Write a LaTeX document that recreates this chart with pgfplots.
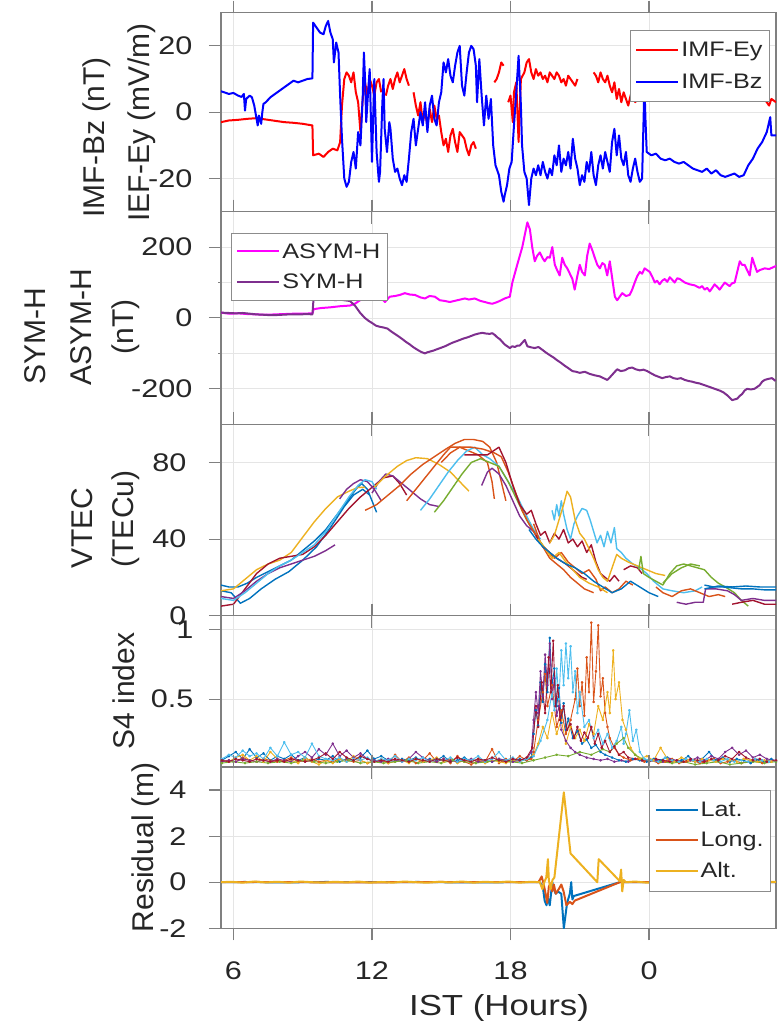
\documentclass[border=0pt]{standalone}
\usepackage{pgfplots}
\pgfplotsset{compat=1.18}
\usepackage{fontspec}
\setmainfont{Liberation Sans}[FakeStretch=1.2]
\newfontfamily\ylfamily{Liberation Sans}

\definecolor{mBlue}{rgb}{0,0.447,0.741}
\definecolor{mOrange}{rgb}{0.850,0.325,0.098}
\definecolor{mYellow}{rgb}{0.929,0.694,0.125}
\definecolor{mPurple}{rgb}{0.494,0.184,0.556}
\definecolor{mGreen}{rgb}{0.466,0.674,0.188}
\definecolor{mCyan}{rgb}{0.301,0.745,0.933}
\definecolor{mRed}{rgb}{0.635,0.078,0.184}
\definecolor{mMag}{rgb}{1,0,1}
\definecolor{frame}{gray}{0.5}
\definecolor{gridc}{gray}{0.9}
\definecolor{txt}{gray}{0.15}

\newcommand\tickfont{\fontsize{25.5}{30}\selectfont}
\newcommand\legfont{\fontsize{21}{25}\selectfont}
\newcommand\ylabfont{\ylfamily\fontsize{30}{36}\selectfont}

\tikzset{ylab/.style={rotate=90, font=\ylabfont, text=txt, anchor=center, inner sep=0pt}}

\pgfplotsset{
  panel/.style={
    scale only axis, width=555pt,
    xmin=5.46, xmax=29.5,
    xtick={6,12,18,24}, xticklabels={},
    axis line style={frame, line width=1.3pt},
    tick style={frame, line width=1.1pt},
    tick align=outside, major tick length=12pt,
    ytick pos=left, xtick pos=both,
    grid=major, major grid style={gridc, line width=0.8pt},
    yticklabel style={font=\tickfont, text=txt, xshift=-12pt},
    xticklabel style={font=\tickfont, text=txt, yshift=-18pt},
    /pgf/number format/assume math mode=true,
    unbounded coords=jump,
    legend style={font=\legfont, draw=black!45, line width=0.8pt, fill=white,
      text=txt, inner xsep=5pt, inner ysep=10pt, row sep=11.5pt},
    legend cell align=left,
    legend image code/.code={\draw[##1, line width=2pt] (0pt,0pt) -- (42pt,0pt);},
    every axis plot/.append style={line join=round},
  },
}

\begin{document}
\begin{tikzpicture}
\path[use as bounding box] (0pt,0pt) rectangle (784pt,1026pt);

% ---------------- Panel 1: IMF ----------------
\begin{axis}[panel, at={(221pt,814.3pt)}, anchor=south west, height=199pt,
  ymin=-30, ymax=30, ytick={-20,0,20},
  yticklabel style={xshift=-1pt},
  legend style={at={(0.989,0.913)}, anchor=north east}]
\addplot[red, line width=2pt] coordinates {
(5.46,-3)(5.8,-2.5)(6.2,-2.3)(6.6,-2)(7.0,-1.8)(7.4,-2.2)(7.8,-2.6)(8.2,-3)(8.6,-3.2)(9.0,-3.5)(9.42,-4)
(9.45,-13)(9.7,-12.5)(9.9,-13.5)(10.1,-12)(10.3,-11)(10.5,-11.5)(10.62,-9)(10.7,2)(10.8,10)(10.9,12)
(11.0,11)(11.1,9)(11.2,12)(11.3,6)(11.4,3)(11.5,-6)(11.6,4)(11.7,9)(11.8,5)(11.9,10)(12.0,8)(12.1,5)
(12.2,9)(12.3,10)(12.4,6)(12.5,nan)
(12.6,5)(12.7,8)(12.8,10)(12.9,7)(13.0,10)(13.1,12)(13.2,9)(13.3,11)(13.4,13)(13.5,10)(13.6,8)(13.7,nan)
(13.8,6)(13.9,2)(14.0,-1)(14.1,3)(14.2,-3)(14.3,0)(14.4,-4)(14.5,1)(14.6,-3)(14.7,2)(14.8,-2)(14.9,-1)
(15.0,-6)(15.1,-10)(15.2,-8)(15.3,-12)(15.4,-7)(15.5,-5)(15.6,-9)(15.7,-12)(15.8,-6)(16.0,-8)(16.1,-11)
(16.2,-13)(16.3,-10)(16.4,-9)(16.5,-11)(16.9,nan)
(17.3,9)(17.4,10)(17.5,12)(17.6,15)(17.7,14)(17.8,nan)
(17.9,3)(18.0,5)(18.1,-3)(18.15,6)(18.25,9)(18.35,-9)(18.45,10)(18.6,12)(18.7,15)(18.8,16)(18.9,12)
(19.0,10)(19.1,13)(19.2,11)(19.3,12)(19.4,10)(19.5,11)(19.6,9)(19.7,12)(19.8,11)(19.9,10)(20.0,12)
(20.1,11)(20.2,9)(20.3,10)(20.4,8)(20.5,11)(20.6,10)(20.7,9)(20.8,8)(20.9,10)(21.2,nan)
(21.6,12)(21.7,11)(21.8,9)(21.9,12)(22.0,10)(22.1,9)(22.2,11)(22.3,8)(22.4,6)(22.5,9)(22.6,4)(22.7,7)
(22.8,3)(22.9,6)(23.0,4)(23.1,2)(23.2,5)(23.3,7)(23.4,3)(23.6,5)(23.8,10)(24.2,12)(24.6,11)(25.0,12)
(25.5,11)(26.0,12)(26.5,11)(27.0,12)(27.5,11)(28.0,10)(28.5,7)(28.8,5)(29.0,4)(29.2,2)(29.3,4)(29.5,3)
};
\addlegendentry{IMF-Ey}
\addplot[blue, line width=2pt] coordinates {
(5.46,6.3)(5.6,6)(5.8,5.5)(6.0,5.8)(6.2,5)(6.35,4.6)(6.45,5.5)(6.5,0.5)(6.55,4)(6.7,5)(6.8,4.5)(6.9,2)
(7.0,-2)(7.05,-4)(7.1,-1)(7.2,-3.5)(7.25,0)(7.3,2.5)(7.4,3)(7.6,4.5)(7.8,5.5)(8.0,6.5)(8.2,7.5)(8.4,8.5)
(8.6,9.5)(8.8,9)(9.0,9.5)(9.2,10)(9.42,10.2)(9.45,27)(9.6,25.5)(9.75,24)(9.9,23.5)(10.0,26)(10.1,27.5)
(10.2,24)(10.3,22)(10.35,15)(10.45,21)(10.55,18)(10.62,5)(10.7,-8)(10.8,-20)(10.9,-22.5)(11.0,-21)
(11.1,-15)(11.2,-12)(11.3,-17)(11.4,-6)(11.5,-10)(11.6,5)(11.65,18)(11.7,10)(11.75,-3)(11.85,8)(11.9,13)
(12.0,-15)(12.05,-2)(12.1,10)(12.2,-12)(12.3,-21)(12.35,-18)(12.45,3)(12.5,10)(12.55,-5)(12.65,-12)
(12.75,-3)(12.8,-5)(12.9,-14)(13.0,-18)(13.1,-17)(13.2,-20)(13.3,-22)(13.4,-19)(13.5,-21)(13.6,-14)
(13.7,-6)(13.8,-2)(13.9,-10)(14.0,-5)(14.1,0)(14.2,-4)(14.3,3)(14.4,-6)(14.5,2)(14.6,5)(14.7,-2)(14.8,-4)
(14.9,3)(15.0,6)(15.1,15)(15.2,12)(15.3,16)(15.4,11)(15.5,9)(15.6,14)(15.7,18)(15.8,20)(15.9,8)(16.0,5)
(16.1,12)(16.2,18)(16.3,20)(16.4,19)(16.5,14)(16.55,3)(16.65,16)(16.75,5)(16.85,-4)(16.95,5)(17.05,-2)
(17.15,4)(17.25,-10)(17.35,-16)(17.5,-19)(17.6,-24)(17.7,-27)(17.75,-25)(17.85,-22)(17.95,-17)(18.05,-15)
(18.15,-4)(18.25,6)(18.35,17)(18.45,2)(18.5,-10)(18.6,-18)(18.7,-20)(18.8,-28)(18.9,-20)(19.0,-17)
(19.1,-19)(19.2,-16)(19.3,-19)(19.4,-15)(19.5,-18)(19.6,-20)(19.7,-17)(19.8,-19)(19.9,-13)(20.0,-16)
(20.1,-10)(20.2,-18)(20.3,-14)(20.4,-16)(20.5,-12)(20.6,-17)(20.7,-8)(20.8,-14)(20.9,-17)(21.0,-22)
(21.1,-19)(21.2,-21)(21.3,-15)(21.4,-18)(21.5,-12)(21.6,-19)(21.7,-22)(21.8,-16)(21.9,-13)(22.0,-17)
(22.1,-12)(22.2,-15)(22.3,-18)(22.4,-9)(22.5,-5)(22.6,-13)(22.7,-7)(22.8,-14)(22.9,-16)(23.0,-12)
(23.1,-19)(23.2,-21)(23.3,-17)(23.4,-14)(23.5,-18)(23.6,-21)(23.7,-20)(23.8,8)(23.85,-3)(23.9,-12)
(24.1,-13)(24.3,-12.5)(24.5,-14)(24.7,-14.5)(24.9,-14)(25.1,-15)(25.3,-15.5)(25.5,-15)(25.7,-16)
(25.9,-17)(26.1,-17.5)(26.3,-18)(26.5,-17)(26.7,-18.5)(26.9,-17.5)(27.1,-19)(27.3,-19.5)(27.5,-19)
(27.7,-18.5)(27.9,-19.5)(28.1,-19)(28.3,-16)(28.5,-14)(28.7,-11)(28.9,-9)(29.1,-6)(29.2,-3)(29.25,-1.5)
(29.3,-7)(29.5,-7)
};
\addlegendentry{IMF-Bz}
\end{axis}

% ---------------- Panel 2: SYM-H / ASYM-H ----------------
\begin{axis}[panel, at={(221pt,601.8pt)}, anchor=south west, height=212.5pt,
  ymin=-300, ymax=300, ytick={-200,0,200}, minor ytick={-100,100},
  grid=both, minor grid style={gridc, line width=0.8pt},
  yticklabel style={xshift=-1pt},
  legend style={at={(0.018,0.900)}, anchor=north west, inner ysep=8pt, row sep=10.5pt}]
\addplot[mMag, line width=2pt] coordinates {
(5.46,15)(5.8,12)(6.2,13)(6.6,11)(7.0,10)(7.4,9)(7.8,10)(8.2,11)(8.6,12)(9.0,12)(9.42,13)
(9.48,25)(9.8,28)(10.2,30)(10.6,33)(11.04,35)(11.26,40)(11.48,50)(11.7,55)(11.91,60)(12.1,57)(12.34,60)
(12.56,45)(12.77,60)(13.0,62)(13.21,65)(13.42,70)(13.65,66)(13.86,65)(14.1,58)(14.29,55)(14.5,62)
(14.72,60)(14.94,50)(15.15,48)(15.37,45)(15.7,50)(16.02,55)(16.2,52)(16.45,55)(16.7,48)(16.89,45)
(17.05,42)(17.21,40)(17.43,45)(17.6,50)(17.75,55)(17.97,60)(18.08,100)(18.29,150)(18.51,200)
(18.73,270)(18.84,250)(18.94,200)(19.05,160)(19.15,175)(19.27,185)(19.38,170)(19.48,160)(19.6,172)
(19.70,170)(19.81,200)(19.92,150)(20.02,135)(20.13,120)(20.24,170)(20.35,150)(20.46,140)(20.57,125)
(20.68,110)(20.78,80)(20.9,120)(21.0,150)(21.1,130)(21.22,120)(21.32,175)(21.43,210)(21.55,190)
(21.65,170)(21.76,150)(21.87,140)(21.98,155)(22.08,150)(22.19,120)(22.30,160)(22.41,110)(22.52,60)
(22.62,50)(22.73,60)(22.84,70)(23.0,62)(23.16,65)(23.27,80)(23.38,100)(23.49,118)(23.60,130)
(23.7,125)(23.81,140)(23.92,135)(24.03,130)(24.15,115)(24.25,100)(24.35,105)(24.46,95)(24.57,105)
(24.68,110)(24.79,102)(24.90,115)(25.0,108)(25.11,100)(25.22,112)(25.33,110)(25.55,100)(25.76,95)
(25.98,92)(26.19,85)(26.3,90)(26.41,80)(26.52,85)(26.63,75)(26.74,85)(26.84,95)(26.95,88)(27.06,80)
(27.17,90)(27.28,100)(27.38,95)(27.49,90)(27.6,98)(27.71,100)(27.82,130)(27.93,160)(28.03,150)
(28.14,150)(28.25,135)(28.36,120)(28.47,170)(28.57,150)(28.68,130)(28.79,135)(29.01,140)(29.2,138)
(29.44,145)(29.5,147)
};
\addlegendentry{ASYM-H}
\addplot[mPurple, line width=2pt] coordinates {
(5.46,15)(5.8,14)(6.1,13)(6.4,14)(6.71,12)(7.0,10)(7.3,9)(7.55,8)(7.8,8)(8.1,9)(8.4,10)(8.7,10)
(8.88,10)(9.2,11)(9.42,10)(9.48,65)(9.6,58)(9.74,55)(9.85,62)(9.96,60)(10.07,52)(10.18,55)(10.4,50)
(10.61,52)(10.8,50)(11.04,48)(11.26,35)(11.48,15)(11.69,0)(11.85,-8)(12.02,-15)(12.18,-22)(12.34,-25)
(12.5,-27)(12.67,-30)(12.83,-38)(12.99,-45)(13.15,-52)(13.32,-60)(13.48,-68)(13.64,-75)(13.8,-83)
(13.97,-90)(14.13,-96)(14.29,-100)(14.4,-97)(14.51,-95)(14.67,-92)(14.83,-88)(15.0,-84)(15.16,-80)
(15.32,-75)(15.48,-70)(15.65,-66)(15.81,-62)(15.97,-58)(16.13,-55)(16.29,-51)(16.45,-47)(16.62,-44)
(16.78,-42)(16.94,-44)(17.10,-45)(17.21,-43)(17.32,-48)(17.43,-55)(17.54,-60)(17.65,-68)(17.75,-75)
(17.86,-80)(17.97,-85)(18.08,-80)(18.19,-82)(18.3,-78)(18.40,-78)(18.51,-70)(18.62,-62)(18.73,-80)
(18.89,-83)(19.05,-85)(19.21,-82)(19.38,-90)(19.54,-98)(19.70,-105)(19.87,-112)(20.03,-120)(20.19,-127)
(20.35,-135)(20.51,-142)(20.68,-150)(20.84,-152)(21.0,-155)(21.22,-152)(21.43,-158)(21.65,-162)
(21.87,-165)(22.03,-170)(22.19,-175)(22.3,-168)(22.41,-160)(22.52,-152)(22.62,-145)(22.78,-150)
(22.95,-148)(23.11,-142)(23.27,-140)(23.43,-145)(23.60,-148)(23.76,-146)(23.92,-150)(24.08,-156)
(24.25,-162)(24.41,-166)(24.57,-170)(24.73,-167)(24.90,-165)(25.06,-170)(25.22,-172)(25.38,-170)
(25.55,-175)(25.71,-178)(25.87,-180)(26.03,-183)(26.19,-185)(26.41,-190)(26.63,-195)(26.84,-200)
(27.06,-205)(27.22,-210)(27.38,-218)(27.49,-225)(27.60,-232)(27.71,-230)(27.82,-228)(27.93,-220)
(28.03,-215)(28.14,-205)(28.25,-200)(28.41,-202)(28.57,-200)(28.68,-195)(28.79,-190)(28.9,-180)
(29.01,-175)(29.17,-172)(29.33,-170)(29.48,-178)
};
\addlegendentry{SYM-H}
\end{axis}

% ---------------- Panel 3: VTEC ----------------
\begin{axis}[panel, at={(221pt,410.3pt)}, anchor=south west, height=191.5pt,
  ymin=0, ymax=100, ytick={0,40,80},
  yticklabel style={xshift=-7pt},
  every axis plot/.append style={line width=1.4pt}]
% morning passes
\addplot[mBlue] coordinates {(5.46,16)(5.8,15)(6.2,15)(6.6,17)(7.0,20)(7.5,23)(8.0,26)(8.5,29)(9.0,34)(9.5,39)(10.0,45)(10.5,53)(11.0,61)(11.3,66)(11.55,69)(11.8,66)(12.0,60)(12.2,54)};
\addplot[mBlue] coordinates {(5.46,13)(5.9,12)(6.3,6.5)(6.7,9)(7.2,14)(7.8,19)(8.4,23)(9.0,29)(9.6,36)(10.2,46)(10.8,57)(11.2,63)(11.6,66)(11.9,63)};
\addplot[mYellow] coordinates {(5.46,13)(6.0,14)(6.5,19)(7.0,24)(7.5,27)(8.0,29)(8.5,33)(9.0,41)(9.5,49)(10.0,56)(10.5,62)(11.0,65)(11.4,67)(11.7,67)};
\addplot[mRed] coordinates {(5.46,5)(6.0,6)(6.5,14)(7.0,22)(7.5,27)(8.0,30)(8.5,31)(9.0,32)(9.5,36)(10.0,42)(10.5,49)(11.0,56)(11.5,62)(12.0,67)(12.5,72)(12.9,73)(13.2,69)(13.5,63)};
\addplot[mPurple] coordinates {(5.46,10)(6.0,9)(6.5,13)(7.0,18)(7.5,22)(8.0,25)(8.5,27)(9.0,29)(9.5,31)(10.0,34)(10.4,37)};
\addplot[mPurple] coordinates {(10.6,61)(10.9,66)(11.2,69)(11.5,71)(11.8,70)(12.1,66)(12.4,60)};
\addplot[mPurple] coordinates {(12.0,64)(12.3,70)(12.6,74)(12.9,73)(13.3,69)(13.7,65)(14.1,61)(14.5,58)(14.9,57)};
\addplot[mCyan] coordinates {(5.46,9)(6.0,8)(6.5,12)(7.0,17)(7.5,22)(8.0,26)(8.5,29)(9.0,33)(9.5,37)(10.0,44)(10.5,53)(11.0,62)(11.4,68)(11.7,71)(12.0,70)(12.2,66)};
% midday passes
\addplot[mYellow] coordinates {(12.1,67)(12.6,73)(13.1,78)(13.5,81)(13.9,82.5)(14.4,82)(14.9,79)(15.4,75)(15.8,70)(16.2,65)};
\addplot[mOrange] coordinates {(11.7,55)(12.2,58)(12.7,63)(13.2,68)(13.7,74)(14.2,79)(14.7,83)(15.2,87)(15.6,90)(16.0,92)(16.4,92)(16.8,91)(17.1,88)(17.4,80)(17.6,70)(17.8,60)};
\addplot[mOrange] coordinates {(13.5,60)(13.9,66)(14.3,72)(14.7,78)(15.1,84)(15.4,88)(15.8,88)(16.2,86)(16.6,84)(17.0,80)(17.2,70)(17.3,61)};
\addplot[mCyan] coordinates {(14.1,55)(14.5,61)(14.9,68)(15.3,75)(15.7,81)(16.1,86)(16.45,88)(16.8,84)(17.1,82)(17.5,78)(17.9,70)(18.3,62)(18.7,52)(19.0,45)(19.3,40)};
\addplot[mGreen] coordinates {(14.7,54)(15.1,60)(15.5,67)(15.9,74)(16.3,80)(16.7,82)(17.1,80)(17.5,78)(17.9,70)(18.3,60)(18.7,50)(19.1,42)(19.5,35)};
\addplot[mPurple] coordinates {(16.75,68)(17.0,75)(17.2,77)(17.5,74)(17.8,68)(18.1,60)(18.4,52)(18.7,47)(19.0,44)(19.2,40)};
\addplot[mOrange] coordinates {(15.0,80)(15.4,85)(15.8,88)(16.3,88)(16.8,87)(17.3,85)(17.6,83)(17.9,75)(18.2,65)(18.5,55)(18.8,48)(19.1,42)(19.4,36)(19.7,30)(20.0,27)(20.3,24)(20.6,20)(20.9,17)(21.2,14)(21.6,12)};
\addplot[mRed] coordinates {(16.0,84)(16.5,84)(17.0,84)(17.5,88)(17.8,80)(18.1,68)(18.4,58)(18.7,53)(18.9,55)(19.1,48)(19.3,42)(19.5,44)(19.7,38)(19.9,43)(20.1,40)(20.3,45)(20.5,38)(20.7,40)(20.9,36)(21.1,39)(21.3,33)(21.5,37)(21.7,28)(21.9,22)(22.1,20)(22.3,18)(22.5,21)(22.7,18)};
% evening passes
\addplot[mRed] coordinates {(19.1,42)(19.4,36)(19.7,33)(20.0,30)(20.4,27)(20.8,23)(21.1,20)(21.3,19)};
\addplot[mRed] coordinates {(22.9,24)(23.2,26)(23.5,25)(23.7,22)};
\addplot[mOrange] coordinates {(19.0,48)(19.3,38)(19.6,34)(19.9,30)(20.2,33)(20.5,28)(20.8,25)(21.1,22)(21.4,24)(21.7,19)(21.9,13)(22.1,15)(22.4,12)(22.7,14)(23.0,18)(23.3,16)};
\addplot[mYellow] coordinates {(19.2,40)(19.5,35)(19.8,30)(20.1,33)(20.4,28)(20.7,24)(21.0,20)(21.4,17)(21.8,15)(22.2,12)};
\addplot[mCyan] coordinates {(19.8,55)(19.9,50)(20.0,58)(20.1,52)(20.2,60)(20.3,53)(20.45,45)(20.6,40)(20.75,48)(20.9,52)(21.1,56)(21.3,55)(21.45,50)(21.6,44)(21.75,38)(21.9,42)(22.05,36)(22.2,44)(22.35,38)(22.5,46)(22.6,35)(22.8,33)(23.0,30)(23.3,27)(23.6,25)(23.9,22)(24.2,18)(24.6,14)(25.0,13)(25.5,12)(26.0,13)(26.3,15)};
\addplot[mYellow] coordinates {(19.7,38)(19.9,42)(20.1,50)(20.3,58)(20.45,65)(20.6,62)(20.8,50)(21.0,43)(21.2,40)(21.4,35)(21.6,30)(21.8,24)(22.0,20)(22.2,18)(22.4,25)(22.6,32)(22.8,30)(23.1,28)(23.5,26)(23.9,24)(24.3,22)(24.7,21)};
\addplot[mBlue] coordinates {(18.8,45)(19.1,40)(19.4,36)(19.7,33)(20.0,30)(20.4,27)(20.8,25)(21.2,22)(21.6,18)(22.0,15)(22.4,12)(22.8,14)(23.2,18)(23.6,15)(24.0,12)(24.4,10)};
% night passes
\addplot[mGreen] coordinates {(23.55,24)(23.65,31)(23.75,22)(24.0,20)(24.3,18)(24.6,16)(24.9,22)(25.2,26)(25.5,27)(25.8,26)(26.1,25)(26.4,24)(26.7,20)(27.0,17)(27.3,15)(27.7,12)(28.0,8)(28.3,5)};
\addplot[mGreen] coordinates {(24.6,17)(25.0,22)(25.4,25)(25.8,27)(26.2,26)};
\addplot[mOrange] coordinates {(24.3,15)(24.6,12)(25.0,10)(25.4,13)(25.8,14)(26.2,12)(26.6,10)(27.0,11)(27.3,10)};
\addplot[mPurple] coordinates {(25.2,7)(25.6,6)(26.0,7)(26.35,7)(26.45,14)(26.9,14)(27.4,13)(27.7,11)(28.0,8)(28.5,9)(29.0,8)(29.5,8)};
\addplot[mBlue] coordinates {(26.4,16)(26.8,15)(27.2,15)(27.6,14.5)(28.0,14)(28.5,14)(29.0,13.5)(29.5,13.5)};
\addplot[mBlue] coordinates {(26.4,14)(27.0,15.5)(27.6,15)(28.2,15.5)(28.8,15)(29.5,15)};
\addplot[mRed] coordinates {(27.6,6)(28.0,7)(28.5,8)(29.0,6)(29.5,6)};
\end{axis}

% ---------------- Panel 4: S4 index ----------------
\begin{axis}[panel, at={(221pt,259pt)}, anchor=south west, height=151.3pt,
  ymin=0.012, ymax=1.1, ytick={0.5,1},
  every axis plot/.append style={line width=0.9pt, mark=*, mark size=0.9pt}]
\addplot[mBlue] coordinates {
(5.5,.06)(5.8,.09)(6.1,.12)(6.4,.07)(6.7,.14)(7.0,.08)(7.3,.11)(7.6,.06)(7.9,.09)(8.2,.07)(8.5,.10)(8.8,.06)
(9.1,.08)(9.4,.05)(9.7,.07)(10.0,.06)(10.3,.09)(10.6,.05)(10.9,.07)(11.2,.06)(11.5,.08)(11.8,.13)(12.1,.07)
(12.4,.09)(12.7,.06)(13.0,.05)(13.3,.07)(13.6,.06)(13.9,.08)(14.2,.05)(14.5,.07)(14.8,.06)(15.1,.09)(15.4,.05)
(15.7,.06)(16.0,.08)(16.3,.05)(16.6,.07)(16.9,.06)(17.2,.05)(17.5,.07)(17.8,.06)(18.1,.05)(18.4,.07)(18.7,.06)
(18.9,.08)(19.0,.25)(19.1,.42)(19.2,.31)(19.3,.62)(19.4,.48)(19.5,.75)(19.6,.55)(19.7,.94)(19.8,.60)(19.9,.72)
(20.0,.45)(20.1,.58)(20.2,.33)(20.3,.47)(20.4,.28)(20.5,.36)(20.7,.22)(20.9,.27)(21.1,.18)(21.3,.21)(21.5,.15)
(21.7,.17)(21.9,.12)(22.1,.10)(22.4,.08)(22.7,.06)(23.0,.05)(23.3,.07)(23.6,.06)
(23.9,.05)(24.2,.07)(24.5,.06)(24.8,.08)(25.1,.05)(25.4,.06)(25.7,.09)(26.0,.05)(26.3,.07)(26.6,.12)(26.9,.06)
(27.2,.08)(27.5,.05)(27.8,.07)(28.1,.06)(28.4,.04)(28.7,.06)(29.0,.05)(29.3,.07)(29.5,.05)};
\addplot[mOrange] coordinates {
(5.5,.05)(5.8,.06)(6.1,.05)(6.4,.08)(6.7,.06)(7.0,.05)(7.3,.07)(7.6,.06)(7.9,.05)(8.2,.06)(8.5,.08)(8.8,.05)
(9.1,.06)(9.4,.07)(9.7,.05)(10.0,.06)(10.3,.05)(10.6,.07)(10.9,.06)(11.2,.05)(11.5,.06)(11.8,.04)(12.1,.05)
(12.4,.06)(12.7,.04)(13.0,.10)(13.3,.05)(13.6,.08)(13.9,.04)(14.2,.06)(14.5,.11)(14.8,.05)(15.1,.07)(15.4,.04)
(15.7,.09)(16.0,.05)(16.3,.03)(16.6,.06)(16.9,.05)(17.2,.14)(17.5,.04)(17.8,.07)(18.1,.05)(18.4,.09)(18.7,.06)
(18.9,.07)(19.0,.12)(19.2,.35)(19.4,.55)(19.5,.68)(19.6,.45)(19.8,.60)(20.0,.30)(20.2,.42)(20.4,.25)(20.6,.35)
(20.8,.50)(20.9,.72)(21.0,.45)(21.1,.62)(21.2,.38)(21.3,.80)(21.4,.55)(21.5,1.05)(21.6,.48)(21.7,.70)(21.8,1.03)
(21.9,.52)(22.0,.65)(22.1,.40)(22.2,.30)(22.3,.22)(22.5,.15)(22.7,.10)(22.9,.08)(23.2,.06)(23.5,.07)
(23.8,.05)(24.1,.06)(24.4,.04)(24.7,.05)(25.0,.07)(25.3,.04)(25.6,.05)(25.9,.06)(26.2,.04)(26.5,.05)(26.8,.07)
(27.1,.04)(27.4,.05)(27.7,.06)(28.0,.04)(28.3,.05)(28.6,.07)(28.9,.04)(29.2,.05)(29.5,.06)};
\addplot[mYellow] coordinates {
(5.5,.06)(5.8,.05)(6.1,.08)(6.4,.10)(6.7,.06)(7.0,.09)(7.3,.05)(7.6,.12)(7.9,.07)(8.2,.05)(8.5,.06)(8.8,.04)
(9.1,.08)(9.4,.05)(9.7,.03)(10.0,.06)(10.3,.04)(10.6,.07)(10.9,.05)(11.2,.09)(11.5,.06)(11.8,.04)(12.1,.05)
(12.4,.07)(12.7,.04)(13.0,.05)(13.3,.06)(13.6,.04)(13.9,.07)(14.2,.05)(14.5,.06)(14.8,.08)(15.1,.05)(15.4,.07)
(15.7,.04)(16.0,.06)(16.3,.05)(16.6,.07)(16.9,.04)(17.2,.06)(17.5,.05)(17.8,.04)(18.1,.06)(18.4,.05)(18.7,.07)
(19.0,.10)(19.2,.18)(19.4,.30)(19.6,.22)(19.8,.40)(20.0,.25)(20.2,.35)(20.4,.18)(20.6,.30)(20.8,.22)(21.0,.28)
(21.2,.20)(21.4,.32)(21.6,.25)(21.8,.45)(22.0,.35)(22.2,.55)(22.3,.40)(22.45,.85)(22.55,.50)(22.7,.62)(22.85,.35)
(23.0,.28)(23.2,.15)(23.4,.10)(23.6,.07)
(23.9,.09)(24.2,.06)(24.5,.15)(24.8,.07)(25.1,.05)(25.4,.08)(25.7,.06)(26.0,.05)(26.3,.07)(26.6,.06)(26.9,.05)
(27.2,.07)(27.5,.06)(27.8,.05)(28.1,.07)(28.4,.06)(28.7,.05)(29.0,.06)(29.3,.05)(29.5,.06)};
\addplot[mPurple] coordinates {
(5.5,.05)(5.8,.06)(6.1,.05)(6.4,.07)(6.7,.06)(7.0,.05)(7.3,.06)(7.6,.05)(7.9,.07)(8.2,.06)(8.5,.05)(8.8,.09)
(9.1,.12)(9.4,.08)(9.7,.14)(10.0,.10)(10.3,.18)(10.6,.09)(10.9,.13)(11.2,.08)(11.5,.11)(11.8,.07)(12.1,.06)
(12.4,.05)(12.7,.07)(13.0,.06)(13.3,.05)(13.6,.07)(13.9,.12)(14.2,.08)(14.5,.06)(14.8,.05)(15.1,.07)(15.4,.06)
(15.7,.05)(16.0,.06)(16.3,.07)(16.6,.05)(16.9,.06)(17.2,.05)(17.5,.07)(17.8,.06)(18.1,.05)(18.4,.06)(18.7,.07)
(18.9,.12)(19.0,.35)(19.1,.55)(19.2,.40)(19.3,.70)(19.4,.52)(19.5,.82)(19.6,.60)(19.7,.90)(19.8,.50)(19.9,.65)
(20.0,.38)(20.1,.45)(20.2,.28)(20.4,.20)(20.6,.15)(20.8,.12)(21.0,.10)(21.3,.08)(21.6,.07)(21.9,.06)(22.2,.07)
(22.5,.05)(22.8,.06)(23.1,.05)(23.4,.07)(23.7,.06)(24.0,.05)(24.3,.06)(24.6,.05)(24.9,.07)(25.2,.06)(25.5,.05)
(25.8,.06)(26.1,.08)(26.4,.06)(26.7,.09)(27.0,.07)(27.3,.12)(27.6,.15)(27.9,.10)(28.2,.13)(28.5,.08)(28.8,.10)
(29.1,.07)(29.5,.06)};
\addplot[mGreen] coordinates {
(5.5,.04)(6.0,.05)(6.5,.04)(7.0,.05)(7.5,.04)(8.0,.05)(8.5,.04)(9.0,.06)(9.5,.05)(10.0,.04)(10.5,.05)(11.0,.06)
(11.5,.04)(12.0,.05)(12.5,.04)(13.0,.05)(13.5,.06)(14.0,.04)(14.5,.05)(15.0,.04)(15.5,.06)(16.0,.05)(16.5,.04)
(17.0,.05)(17.5,.06)(18.0,.05)(18.5,.04)(19.0,.06)(19.5,.08)(20.0,.10)(20.5,.09)(21.0,.12)(21.5,.10)(22.0,.14)
(22.3,.12)(22.6,.18)(22.9,.22)(23.1,.15)(23.4,.10)(23.7,.07)(24.0,.06)(24.5,.05)(25.0,.04)(25.5,.05)(26.0,.03)
(26.5,.04)(27.0,.05)(27.5,.03)(28.0,.04)(28.5,.05)(29.0,.04)(29.5,.05)};
\addplot[mCyan] coordinates {
(5.5,.07)(5.8,.10)(6.1,.08)(6.4,.13)(6.7,.09)(7.0,.11)(7.3,.07)(7.6,.15)(7.9,.09)(8.2,.19)(8.5,.10)(8.8,.12)
(9.1,.08)(9.4,.18)(9.7,.09)(10.0,.07)(10.3,.06)(10.6,.08)(10.9,.05)(11.2,.07)(11.5,.06)(11.8,.08)(12.1,.05)
(12.4,.07)(12.7,.06)(13.0,.09)(13.3,.05)(13.6,.07)(13.9,.06)(14.2,.08)(14.5,.05)(14.8,.07)(15.1,.06)(15.4,.08)
(15.7,.05)(16.0,.07)(16.3,.06)(16.6,.09)(16.9,.05)(17.2,.07)(17.5,.12)(17.8,.06)(18.1,.08)(18.4,.05)(18.7,.07)
(19.0,.09)(19.3,.20)(19.6,.35)(19.8,.55)(19.9,.42)(20.0,.72)(20.1,.50)(20.2,.85)(20.3,.60)(20.4,.90)(20.5,.65)
(20.6,.88)(20.7,.55)(20.8,.70)(20.9,.40)(21.0,.55)(21.2,.30)(21.4,.35)(21.6,.22)(21.8,.28)(22.0,.18)(22.2,.25)
(22.4,.15)(22.6,.20)(22.8,.30)(22.9,.18)(23.0,.25)(23.15,.42)(23.3,.20)(23.45,.28)(23.6,.12)(23.8,.07)
(24.1,.06)(24.4,.05)(24.7,.08)(25.0,.06)(25.3,.05)(25.6,.07)(25.9,.06)(26.2,.05)(26.5,.07)(26.8,.06)(27.1,.05)
(27.4,.07)(27.7,.05)(28.0,.06)(28.3,.05)(28.6,.07)(28.9,.06)(29.2,.05)(29.5,.06)};
\addplot[mRed] coordinates {
(5.5,.06)(5.8,.05)(6.1,.07)(6.4,.06)(6.7,.05)(7.0,.07)(7.3,.06)(7.6,.05)(7.9,.06)(8.2,.05)(8.5,.07)(8.8,.06)
(9.1,.05)(9.4,.06)(9.7,.08)(10.0,.11)(10.3,.07)(10.6,.12)(10.9,.08)(11.2,.06)(11.5,.09)(11.8,.07)(12.1,.05)
(12.4,.06)(12.7,.05)(13.0,.07)(13.3,.06)(13.6,.05)(13.9,.07)(14.2,.06)(14.5,.05)(14.8,.07)(15.1,.06)(15.4,.05)
(15.7,.08)(16.0,.06)(16.3,.05)(16.6,.07)(16.9,.06)(17.2,.08)(17.5,.06)(17.8,.05)(18.1,.07)(18.4,.06)(18.7,.08)
(18.95,.15)(19.1,.45)(19.2,.30)(19.35,.62)(19.5,.40)(19.65,.80)(19.75,.55)(19.85,.92)(19.95,.45)(20.05,.60)
(20.15,.35)(20.3,.45)(20.45,.28)(20.6,.32)(20.75,.22)(20.9,.30)(21.05,.20)(21.2,.26)(21.35,.22)(21.5,.30)
(21.65,.18)(21.8,.25)(21.95,.15)(22.1,.20)(22.3,.12)(22.5,.16)(22.7,.10)(22.9,.12)(23.1,.08)(23.4,.07)
(23.7,.06)(24.0,.05)(24.3,.07)(24.6,.06)(24.9,.05)(25.2,.06)(25.5,.05)(25.8,.07)(26.1,.06)(26.4,.05)(26.7,.07)
(27.0,.06)(27.3,.09)(27.6,.07)(27.9,.12)(28.2,.08)(28.5,.06)(28.8,.07)(29.1,.05)(29.5,.06)};
\end{axis}

% ---------------- Panel 5: position residuals ----------------
\begin{axis}[panel, at={(221pt,97.7pt)}, anchor=south west, height=161.3pt,
  ymin=-2, ymax=5, ytick={-2,0,2,4},
  yticklabel style={xshift=-7pt},
  xticklabels={6,12,18,0},
  legend style={at={(0.991,0.857)}, anchor=north east, inner ysep=10pt, row sep=10pt}]
\addplot[mBlue, line width=2pt] coordinates {
(5.46,0)(6.5,0.01)(8.0,-0.01)(10.0,0.01)(12.0,0)(14.0,0.01)(16.0,-0.01)(18.0,0)(19.27,0)
(19.40,-0.2)(19.48,-0.8)(19.56,-1.0)(19.62,-0.7)(19.70,-1.0)(19.81,0)(19.88,-0.3)(19.96,-0.5)(20.05,-0.4)
(20.20,-0.5)(20.31,-2.0)(20.45,-0.9)(20.57,-0.5)(20.63,0)(20.68,-0.75)(20.74,-0.6)(22.73,0)
(24.0,0)(26.0,0.01)(28.0,0)(29.5,0)};
\addlegendentry{Lat.}
\addplot[mOrange, line width=2pt] coordinates {
(5.46,0)(7.0,0.01)(9.0,0)(11.0,-0.01)(13.0,0)(15.0,0.01)(17.0,0)(19.2,0)
(19.27,0.1)(19.35,0.25)(19.44,-0.1)(19.52,-0.5)(19.59,-0.9)(19.66,-0.2)(19.73,-0.05)(19.81,-0.4)(19.88,-0.1)
(19.96,-0.5)(20.09,-0.3)(20.2,-0.1)(20.3,-0.4)(20.42,-1.0)(20.57,-0.85)(20.68,-0.95)(20.78,-0.8)(22.73,0)
(24.0,0)(26.0,0)(28.0,0.01)(29.5,0)};
\addlegendentry{Long.}
\addplot[mYellow, line width=2pt] coordinates {
(5.46,0)(5.9,0.02)(6.4,-0.02)(6.9,0.03)(7.4,-0.01)(7.9,0.02)(8.4,-0.02)(8.9,0.03)(9.4,0)(9.9,-0.02)(10.4,0.02)
(10.9,-0.01)(11.4,0.03)(11.9,-0.02)(12.4,0.01)(12.9,-0.02)(13.4,0.03)(13.9,0)(14.4,-0.02)(14.9,0.02)(15.4,-0.01)
(15.9,0.03)(16.4,-0.02)(16.9,0.02)(17.4,-0.01)(17.9,0.03)(18.4,-0.02)(18.9,0.02)(19.27,0)
(19.38,-0.3)(19.48,0.05)(19.55,0.2)(19.62,1.0)(19.66,0.1)(19.74,-0.3)(19.82,0.1)(19.9,0.2)(20.31,3.9)
(20.6,1.25)(21.76,0)(21.82,1.0)(22.73,0.05)(22.79,0.55)(22.84,-0.4)(22.9,0.1)(23.0,0)(23.4,0.03)(23.9,-0.02)
(24.4,0.02)(24.9,-0.01)(25.4,0.03)(25.9,-0.02)(26.4,0.02)(26.9,-0.01)(27.4,0.02)(27.9,-0.02)(28.4,0.01)
(28.9,-0.01)(29.5,0.02)};
\addlegendentry{Alt.}
\end{axis}

% axis titles
\node[ylab] at (97pt,888.5pt) {IMF-Bz (nT)};
\node[ylab] at (142pt,903.5pt) {IEF-Ey (mV/m)};
\node[ylab] at (35pt,690pt) {SYM-H};
\node[ylab] at (81pt,699pt) {ASYM-H};
\node[ylab] at (126pt,699pt) {(nT)};
\node[ylab] at (82pt,498pt) {VTEC};
\node[ylab] at (126pt,507pt) {(TECu)};
\node[ylab] at (124pt,335pt) {S4 index};
\node[ylab] at (146pt,179pt) {Residual (m)};
\node[font=\fontsize{29}{34}\selectfont, text=txt, inner sep=0pt] at (499pt,18pt) {IST (Hours)};
\end{tikzpicture}
\end{document}
